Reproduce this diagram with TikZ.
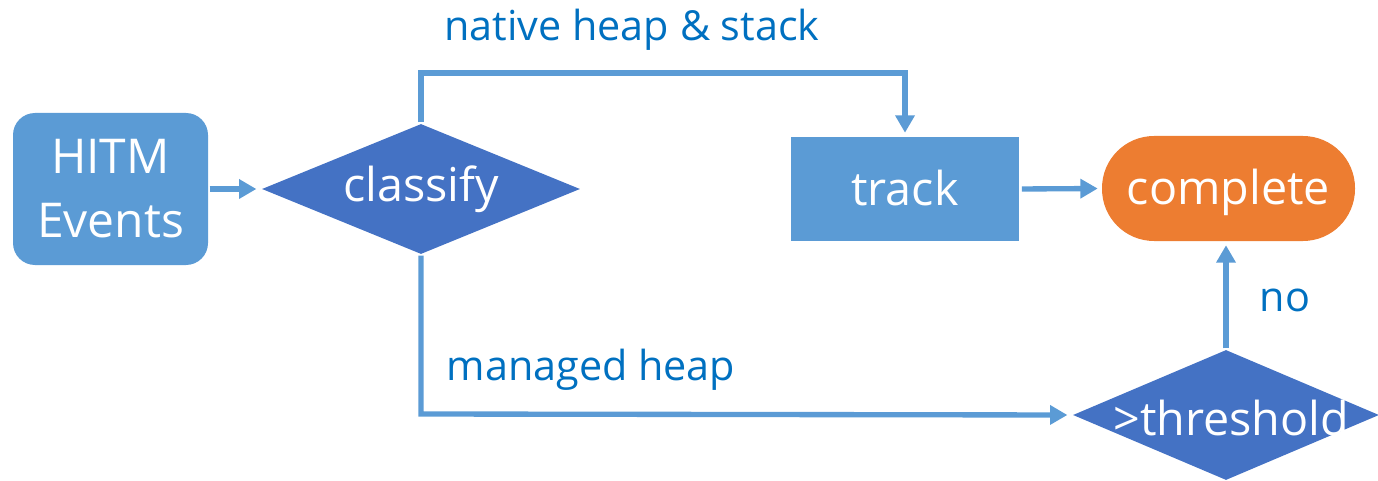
\documentclass[tikz,border=0pt]{standalone}
\usepackage{fontspec}
\setmainfont{Open Sans}
\usetikzlibrary{shapes.geometric,arrows.meta}
\definecolor{lblue}{HTML}{5B9BD5}
\definecolor{dblue}{HTML}{4472C4}
\definecolor{orng}{HTML}{ED7D31}
\definecolor{txtblue}{HTML}{0070C0}
\tikzset{
  boxtext/.style={text=white,font=\fontsize{35}{40}\selectfont},
  hitmbox/.style={fill=lblue,draw=none,rounded corners=16.5pt,minimum width=146.25pt,minimum height=114pt,inner sep=0pt,align=center,text=white,font=\fontsize{36}{48}\selectfont},
  trackbox/.style={fill=lblue,draw=none,minimum width=171pt,minimum height=78pt,inner sep=0pt,text height=30pt,text depth=6pt,boxtext},
  donebox/.style={fill=orng,draw=none,rounded corners=39pt,minimum width=189.75pt,minimum height=78.75pt,inner sep=0pt,text height=30pt,text depth=6pt,boxtext},
  decision/.style={diamond,fill=dblue,draw=none,minimum width=238.5pt,minimum height=97.5pt,inner sep=0pt},
  flow/.style={draw=lblue,line width=4pt,-{Triangle[length=13pt,width=14pt]}},
  lbl/.style={text=txtblue,font=\fontsize{31}{35}\selectfont},
}
\begin{document}
\begin{tikzpicture}[x=0.75pt,y=-0.75pt]
\useasboundingbox (0,0) rectangle (1378,481);
\node[hitmbox] (hitm) at (110.5,189) {HITM\\Events};
\node[decision,label={[boxtext]center:classify}] (classify) at (421,189) {};
\node[trackbox] (track) at (905,189) {track};
\node[donebox] (complete) at (1228.5,188.5) {complete};
\node[decision,minimum width=229.5pt,label={[boxtext,xshift=4pt,yshift=-2pt]center:{>threshold}}] (thresh) at (1226,415) {};
\coordinate (topbend) at (421,73);
\coordinate (botbend) at (421,414);
\draw[flow,shorten <=1pt,shorten >=4pt] (hitm.east) -- (classify.west);
\draw[flow,shorten <=1pt,shorten >=3pt] (classify.north) -- (topbend) -| (track.north);
\draw[flow,shorten <=2pt,shorten >=3pt] (track.east) -- (complete.west);
\draw[flow,shorten <=1pt,shorten >=4pt] (classify.south) -- (botbend) -- (thresh.west);
\draw[flow,shorten <=1pt,shorten >=3pt] (thresh.north) -- (thresh.north |- complete.south);
\node[lbl] (lnative) at (632,30) {native heap \& stack};
\node[lbl] (lmanaged) at (591,370) {managed heap};
\node[lbl] (lno) at (1285,300) {no};
\end{tikzpicture}
\end{document}
